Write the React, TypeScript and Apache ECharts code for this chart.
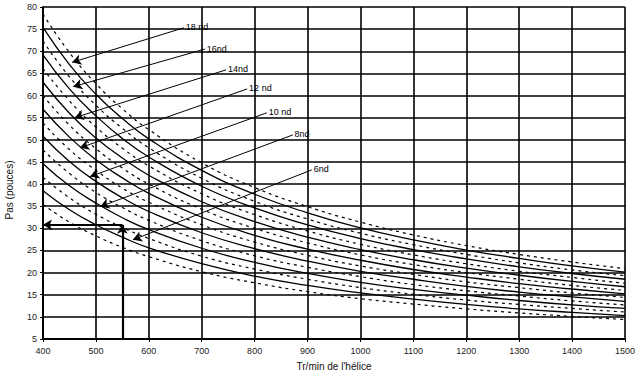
import React, { useEffect, useRef } from "react";
import * as echarts from "echarts";

// Propeller speed (rpm) at which the curves were read
const rpm = [400, 450, 500, 550, 600, 700, 800, 900, 1000, 1100, 1200, 1300, 1400, 1500];

// Boat speed (knots) for each curve, from top to bottom
const knots = [19, 18, 17, 16, 15, 14, 13, 12, 11, 10, 9, 8, 7, 6, 5];

// Pitch (inches) read for each curve at the rpm values above
const pitch19 = [78.4, 69.7, 62.7, 57.0, 52.3, 44.8, 39.2, 34.9, 31.4, 28.5, 26.1, 24.1, 22.4, 20.9];
const pitch18 = [75.4, 67.0, 60.3, 54.8, 50.2, 43.1, 37.7, 33.5, 30.1, 27.4, 25.1, 23.2, 21.5, 20.1];
const pitch17 = [72.3, 64.2, 57.8, 52.6, 48.2, 41.3, 36.1, 32.1, 28.9, 26.3, 24.1, 22.2, 20.6, 19.3];
const pitch16 = [69.2, 61.5, 55.4, 50.3, 46.1, 39.5, 34.6, 30.8, 27.7, 25.2, 23.1, 21.3, 19.8, 18.5];
const pitch15 = [66.1, 58.8, 52.9, 48.1, 44.1, 37.8, 33.1, 29.4, 26.4, 24.0, 22.0, 20.3, 18.9, 17.6];
const pitch14 = [63.0, 56.0, 50.4, 45.9, 42.0, 36.0, 31.5, 28.0, 25.2, 22.9, 21.0, 19.4, 18.0, 16.8];
const pitch13 = [60.0, 53.3, 48.0, 43.6, 40.0, 34.3, 30.0, 26.7, 24.0, 21.8, 20.0, 18.5, 17.1, 16.0];
const pitch12 = [56.9, 50.6, 45.5, 41.4, 37.9, 32.5, 28.4, 25.3, 22.8, 20.7, 19.0, 17.5, 16.3, 15.2];
const pitch11 = [53.8, 47.8, 43.1, 39.1, 35.9, 30.8, 26.9, 23.9, 21.5, 19.6, 17.9, 16.6, 15.4, 14.4];
const pitch10 = [50.8, 45.1, 40.6, 36.9, 33.8, 29.0, 25.4, 22.6, 20.3, 18.5, 16.9, 15.6, 14.5, 13.5];
const pitch9 = [47.7, 42.4, 38.1, 34.7, 31.8, 27.2, 23.8, 21.2, 19.1, 17.3, 15.9, 14.7, 13.6, 12.7];
const pitch8 = [44.6, 39.6, 35.7, 32.4, 29.7, 25.5, 22.3, 19.8, 17.8, 16.2, 14.9, 13.7, 12.7, 11.9];
const pitch7 = [41.5, 36.9, 33.2, 30.2, 27.7, 23.7, 20.8, 18.5, 16.6, 15.1, 13.8, 12.8, 11.9, 11.1];
const pitch6 = [38.5, 34.2, 30.8, 28.0, 25.6, 22.0, 19.2, 17.1, 15.4, 14.0, 12.8, 11.8, 11.0, 10.3];
const pitch5 = [35.4, 31.4, 28.3, 25.7, 23.6, 20.2, 17.7, 15.7, 14.1, 12.9, 11.8, 10.9, 10.1, 9.4];

const curves = [pitch19, pitch18, pitch17, pitch16, pitch15, pitch14, pitch13, pitch12, pitch11, pitch10, pitch9, pitch8, pitch7, pitch6, pitch5];

// Callout labels and their arrows (start near the label, tip on the curve)
const annoLabels = ["18 nd", "16nd", "14nd", "12 nd", "10 nd", "8nd", "6nd"];
const annoStartRpm = [666, 706, 746, 786, 823, 872, 908];
const annoStartPitch = [75.3, 70.5, 65.8, 61.5, 56.1, 51.1, 43.2];
const annoTipRpm = [455, 457, 460, 470, 489, 508, 570];
const annoTipPitch = [67.5, 62.0, 55.0, 48.2, 41.7, 34.9, 27.4];

// Worked example: 550 rpm -> ~31 inches
const exampleRpm = 550;
const examplePitch = 30.8;
const axisMinPitch = 5;
const axisMinRpm = 400;

export default function App() {
  const ref = useRef<HTMLDivElement>(null);
  useEffect(() => {
    if (!ref.current) return;
    const chart = echarts.init(ref.current, null, { renderer: "svg" });
    const font = "Liberation Sans, Arial, sans-serif";

    const curveSeries = curves.map((vals, i) => ({
      type: "line",
      name: knots[i] + " nd",
      data: rpm.map((x, j) => [x, vals[j]]),
      smooth: 0.5,
      symbol: "none",
      silent: true,
      lineStyle: {
        color: "#000",
        width: knots[i] % 2 === 0 ? 1.3 : 1.2,
        type: knots[i] % 2 === 0 ? "solid" : [3, 4],
      },
      z: 3,
    }));

    const calloutLines = annoLabels.map((lab, i) => [
      {
        coord: [annoStartRpm[i], annoStartPitch[i]],
        label: { formatter: lab },
      },
      { coord: [annoTipRpm[i], annoTipPitch[i]] },
    ]);

    const annoSeries = {
      type: "line",
      data: [],
      symbol: "none",
      silent: true,
      z: 5,
      markLine: {
        silent: true,
        animation: false,
        symbol: ["none", "arrow"],
        symbolSize: [8, 9],
        lineStyle: { color: "#000", width: 1, type: "solid" },
        label: {
          show: true,
          position: "start",
          color: "#000",
          fontSize: 9,
          fontFamily: font,
          distance: 2,
        },
        data: calloutLines,
      },
    };

    const exampleSeries = {
      type: "line",
      data: [],
      symbol: "none",
      silent: true,
      z: 6,
      markLine: {
        silent: true,
        animation: false,
        symbol: ["none", "arrow"],
        symbolSize: [8, 9],
        lineStyle: { color: "#000", width: 2.2, type: "solid" },
        label: { show: false },
        data: [
          [{ coord: [exampleRpm, axisMinPitch] }, { coord: [exampleRpm, examplePitch] }],
          [{ coord: [exampleRpm, examplePitch] }, { coord: [axisMinRpm, examplePitch] }],
        ],
      },
    };

    chart.setOption({
      animation: false,
      backgroundColor: "#fff",
      grid: { left: 43, right: 15, top: 7, bottom: 38, containLabel: false },
      xAxis: {
        type: "value",
        min: 400,
        max: 1500,
        interval: 100,
        name: "Tr/min de l'hélice",
        nameLocation: "middle",
        nameGap: 22,
        nameTextStyle: { color: "#111", fontSize: 10, fontFamily: font },
        axisLine: { show: true, onZero: false, lineStyle: { color: "#000", width: 2 } },
        axisTick: { show: true, length: 3, lineStyle: { color: "#000" } },
        axisLabel: {
          color: "#222",
          fontSize: 9,
          fontFamily: font,
          margin: 7,
          formatter: (v: number) => String(v),
        },
        splitLine: { show: true, lineStyle: { color: "#000", width: 1.6 } },
      },
      yAxis: {
        type: "value",
        min: 5,
        max: 80,
        interval: 5,
        axisLine: { show: true, onZero: false, lineStyle: { color: "#000", width: 2 } },
        axisTick: { show: true, length: 3, lineStyle: { color: "#000" } },
        axisLabel: { color: "#222", fontSize: 9, fontFamily: font, margin: 6 },
        splitLine: { show: true, lineStyle: { color: "#000", width: 1.6 } },
      },
      graphic: [
        {
          type: "text",
          x: 4,
          y: 190,
          rotation: Math.PI / 2,
          style: {
            text: "Pas (pouces)",
            fill: "#111",
            font: "10px Liberation Sans, Arial, sans-serif",
            align: "center",
            verticalAlign: "top",
          },
        },
      ],
      series: [...curveSeries, annoSeries, exampleSeries],
    });
    return () => chart.dispose();
  }, []);
  return (
    <div
      ref={ref}
      style={{ position: "fixed", left: 0, top: 0, width: 640, height: 377 }}
    />
  );
}
